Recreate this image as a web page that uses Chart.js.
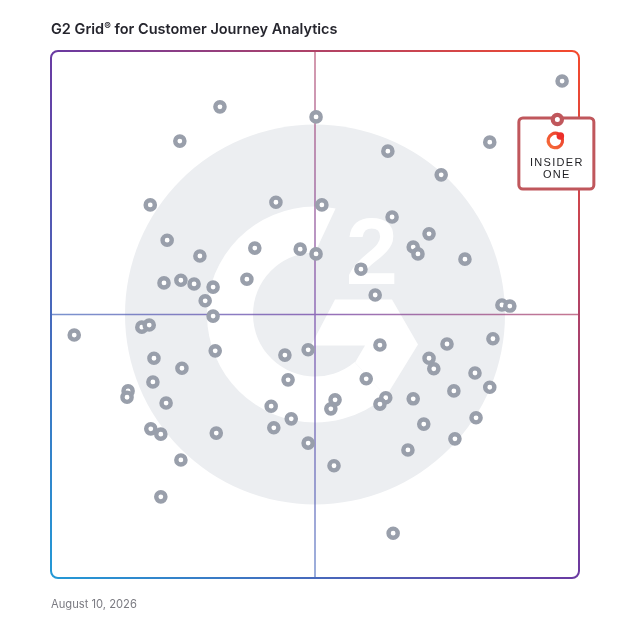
<!DOCTYPE html>
<html>
<head>
<meta charset="utf-8">
<title>G2 Grid for Customer Journey Analytics</title>
<script src="https://cdn.jsdelivr.net/npm/chart.js@4.4.1/dist/chart.umd.min.js"></script>
<style>
  html, body { margin: 0; padding: 0; background: #fff; }
  #wrap { position: relative; width: 628px; height: 628px; }
  #grid { position: absolute; left: 0; top: 0; }
  #title { position: absolute; left: 51px; top: 20px; font: 600 14.5px Inter, sans-serif; color: #25252d; white-space: nowrap; }
  #title sup { font-size: 10px; vertical-align: 4px; line-height: 0; }
  #date { position: absolute; left: 51px; top: 597px; font: 400 11.2px Inter, sans-serif; color: #7b7b82; }
</style>
</head>
<body>
<div id="wrap">
  <canvas id="grid" width="628" height="628"></canvas>
  <div id="title">G2 Grid<sup>®</sup> for Customer Journey Analytics</div>
  <div id="date">August 10, 2026</div>
</div>
<script>
// scores (0-100 on both axes, 50 = quadrant split)
const xScores = [32.0, 24.4, 18.8, 42.6, 22.0, 28.2, 38.6, 47.2, 50.2, 21.4, 24.6, 27.1, 30.7, 37.1, 29.2, 30.7, 50.2, 96.8,
  83.1, 63.8, 73.9, 51.3, 64.6, 71.6, 68.6, 69.5, 78.4, 58.7, 61.4, 85.4, 86.9, 4.4, 17.2, 18.6, 19.5, 24.8, 31.1, 44.3,
  48.7, 19.3, 44.9, 14.6, 14.4, 21.8, 41.7, 45.5, 42.2, 18.9, 20.8, 31.3, 48.7, 24.6, 20.8, 62.3, 75.0, 83.7, 71.6, 72.5,
  59.7, 80.3, 83.1, 76.3, 53.8, 53.0, 63.4, 62.3, 68.6, 80.5, 70.6, 76.5, 67.6, 53.6, 64.8];
const yScores = [89.4, 82.9, 70.8, 71.3, 64.1, 61.1, 62.6, 62.4, 61.5, 56.0, 56.5, 55.8, 55.2, 56.7, 52.6, 49.7, 87.5, 94.3,
  82.7, 81.0, 76.5, 70.8, 68.5, 65.3, 62.8, 61.5, 60.5, 58.6, 53.7, 51.8, 51.6, 46.1, 47.6, 48.0, 41.7, 39.8, 43.1, 42.3,
  43.3, 37.2, 37.6, 35.5, 34.3, 33.2, 32.6, 30.2, 28.5, 28.3, 27.3, 27.5, 25.6, 22.4, 15.4, 44.2, 44.4, 45.4, 41.7, 39.7,
  37.8, 38.9, 36.2, 35.5, 33.8, 32.1, 34.2, 33.0, 34.0, 30.4, 29.2, 26.4, 24.3, 21.3, 8.5];

const highlightName = ["INSIDER", "ONE"];
const highlightX = [95.9];
const highlightY = [87.0];

const axisMin = 0;
const axisMax = 100;
const midValue = 50;

const ctx = document.getElementById("grid").getContext("2d");
const rad = (d) => (d * Math.PI) / 180;

function frameGradient(c, area) {
  const g = c.createLinearGradient(area.left, area.bottom, area.right, area.top);
  g.addColorStop(0, "#2399d6");
  g.addColorStop(0.5, "#6a3aa2");
  g.addColorStop(1, "#f54a2c");
  return g;
}

// big G2 watermark, quadrant lines and the gradient frame
const gridBackground = {
  id: "gridBackground",
  beforeDatasetsDraw(chart) {
    const c = chart.ctx;
    const area = chart.chartArea;
    const cx = chart.scales.x.getPixelForValue(midValue);
    const cy = chart.scales.y.getPixelForValue(midValue);
    c.save();

    c.fillStyle = "#eceef1";
    c.beginPath();
    c.arc(cx, cy, 190, 0, Math.PI * 2);
    c.fill();

    c.fillStyle = "#fff";
    c.beginPath();
    c.arc(cx, cy, 108, rad(-79), rad(49), true);
    c.lineTo(cx + 40, cy + 48);
    c.arc(cx, cy, 62, rad(50), rad(270), false);
    c.closePath();
    c.fill();

    c.beginPath();
    c.moveTo(cx + 20, cy - 15);
    c.lineTo(cx + 77, cy - 15);
    c.lineTo(cx + 103, cy + 30);
    c.lineTo(cx + 71, cy + 82);
    c.lineTo(cx + 40, cy + 48);
    c.lineTo(cx + 50, cy + 31);
    c.lineTo(cx - 4, cy + 31);
    c.closePath();
    c.fill();

    c.font = "bold 94px 'Liberation Sans'";
    c.textAlign = "center";
    c.textBaseline = "alphabetic";
    c.fillText("2", cx + 57, cy - 31);

    const grad = frameGradient(c, area);
    c.strokeStyle = grad;
    c.globalAlpha = 0.72;
    c.lineWidth = 1.5;
    c.beginPath();
    c.moveTo(cx, area.top);
    c.lineTo(cx, area.bottom);
    c.moveTo(area.left, cy);
    c.lineTo(area.right, cy);
    c.stroke();

    c.globalAlpha = 1;
    c.lineWidth = 2;
    c.beginPath();
    c.roundRect(area.left, area.top, area.right - area.left, area.bottom - area.top, 7);
    c.stroke();
    c.restore();
  },
};

// callout box under the highlighted product's marker
const calloutBox = {
  id: "calloutBox",
  beforeDatasetDraw(chart, args) {
    if (args.index !== 0) return;
    const pt = chart.getDatasetMeta(0).data[0];
    const c = chart.ctx;
    const x = pt.x - 1;
    const y = pt.y;
    c.save();
    c.fillStyle = "#fff";
    c.strokeStyle = "#c0575c";
    c.lineWidth = 3;
    c.beginPath();
    c.roundRect(x - 37.5, y - 1.5, 75, 71, 4);
    c.fill();
    c.stroke();

    // logo mark
    const lg = c.createLinearGradient(x - 9, y + 29, x + 9, y + 11);
    lg.addColorStop(0, "#f7713a");
    lg.addColorStop(1, "#e8302a");
    c.strokeStyle = lg;
    c.lineWidth = 3.2;
    c.beginPath();
    c.arc(x - 1, y + 21, 7.2, rad(-30), rad(300));
    c.stroke();
    c.fillStyle = "#ec2f2b";
    c.beginPath();
    c.arc(x + 4, y + 16.5, 3.8, 0, Math.PI * 2);
    c.fill();

    c.fillStyle = "#1e1e22";
    c.font = "11px 'Liberation Sans'";
    c.textAlign = "center";
    c.letterSpacing = "1.3px";
    c.fillText(highlightName[0], x + 0.5, y + 46.5);
    c.fillText(highlightName[1], x + 0.5, y + 58);
    c.restore();
  },
};

new Chart(ctx, {
  type: "scatter",
  data: {
    datasets: [
      {
        label: highlightName.join(" "),
        data: highlightX.map((x, i) => ({ x: x, y: highlightY[i] })),
        pointRadius: 4.6,
        pointHoverRadius: 4.6,
        borderWidth: 4.2,
        borderColor: "#c0575c",
        backgroundColor: "#fff",
      },
      {
        label: "Products",
        data: xScores.map((x, i) => ({ x: x, y: yScores[i] })),
        pointRadius: 4.6,
        pointHoverRadius: 4.6,
        borderWidth: 4.4,
        borderColor: "#999fab",
        backgroundColor: "#fff",
      },
    ],
  },
  options: {
    responsive: false,
    animation: false,
    clip: false,
    layout: { padding: { left: 51, right: 49, top: 51, bottom: 50 } },
    scales: {
      x: { type: "linear", min: axisMin, max: axisMax, display: false },
      y: { type: "linear", min: axisMin, max: axisMax, display: false },
    },
    plugins: {
      legend: { display: false },
      tooltip: { enabled: false },
    },
  },
  plugins: [gridBackground, calloutBox],
});
</script>
</body>
</html>
